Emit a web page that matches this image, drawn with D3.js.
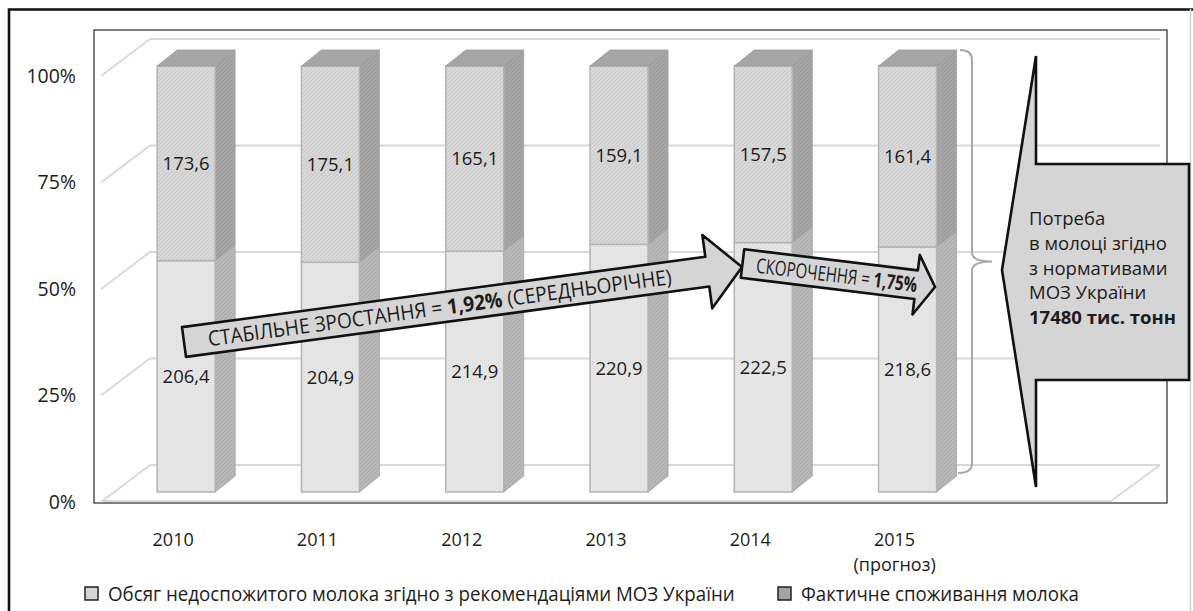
<!DOCTYPE html>
<html lang="uk">
<head>
<meta charset="utf-8">
<title>Споживання молока</title>
<script src="https://cdn.jsdelivr.net/npm/d3@7"></script>
<style>
  body { margin: 0; background: #fff; }
  text { font-family: "Open Sans", "Noto Sans", sans-serif; fill: #1e1b1c; }
</style>
</head>
<body>
<script>

// data
var years = ["2010", "2011", "2012", "2013", "2014", "2015"];
var yearNotes = ["", "", "", "", "", "(прогноз)"];
var shortfall = [206.4, 204.9, 214.9, 220.9, 222.5, 218.6];
var actual = [173.6, 175.1, 165.1, 159.1, 157.5, 161.4];
var percentTicks = [0, 0.25, 0.5, 0.75, 1];
var seriesNames = ["Обсяг недоспожитого молока згідно з рекомендаціями МОЗ України",
                   "Фактичне споживання молока"];
var calloutLines = ["Потреба", "в молоці згідно", "з нормативами", "МОЗ України"];
var calloutTotal = "17480 тис. тонн";

var w = 1193, h = 611;

// 3d look: floor from x 101 to 1111, depth goes up-right
var floorL = 101, floorR = 1111;
var depth = [49, -37];
var barShift = [13, -10];   // bar front sits a bit behind the front plane
var barDepth = [20, -16];
var barW = 58;

var svg = d3.select("body").append("svg").attr("width", w).attr("height", h);

var x = d3.scaleBand().domain(years).range([floorL, floorL + (floorR - floorL) * 6 / 7]);
var y = d3.scaleLinear().domain([0, 1]).range([502, 76]);

var fmt = d3.formatLocale({decimal: ",", thousands: " ", grouping: [3], currency: ["", ""]}).format(".1f");

// squeeze a text sideways so it fits a width (the original font is narrower)
function squeeze(sel, cx, cy, angle, width) {
  var got = sel.node().getComputedTextLength();
  var k = Math.min(1, width / got);
  sel.attr("transform", "translate(" + cx + "," + cy + ") rotate(" + angle + ") scale(" + k + ",1)");
}

// textures for the bar faces
var defs = svg.append("defs");
function texture(id, base, line, kind) {
  var p = defs.append("pattern").attr("id", id).attr("width", 4).attr("height", 4)
    .attr("patternUnits", "userSpaceOnUse");
  p.append("rect").attr("width", 4).attr("height", 4).attr("fill", base);
  if (kind == "dots") {
    p.append("rect").attr("x", 0).attr("y", 0).attr("width", 1).attr("height", 1).attr("fill", line);
    p.append("rect").attr("x", 2).attr("y", 2).attr("width", 1).attr("height", 1).attr("fill", line);
  } else {
    p.append("path").attr("d", "M0,4L4,0M-1,1L1,-1M3,5L5,3").attr("stroke", line).attr("stroke-width", 1);
  }
}
texture("frontLow", "#e6e6e6", "#d6d6d6", "dots");
texture("frontHigh", "#d8d8d8", "#c8c8c8", "lines");
texture("sideLow", "#b8b8b8", "#aaaaaa", "lines");
texture("sideHigh", "#a6a6a6", "#989898", "lines");

// outer frame
svg.append("path").attr("d", "M9,620V9.5H1193").attr("fill", "none")
  .attr("stroke", "#111").attr("stroke-width", 2.6);
svg.append("line").attr("x1", 1190.5).attr("x2", 1190.5).attr("y1", 9).attr("y2", 611)
  .attr("stroke", "#d0d0d0").attr("stroke-width", 1.5);

// plot area box
svg.append("rect").attr("x", 94).attr("y", 30).attr("width", 1167 - 94).attr("height", 503 - 30)
  .attr("fill", "none").attr("stroke", "#3a3a3a").attr("stroke-width", 1.3);

// walls and floor gridlines
var grid = svg.append("g").attr("stroke", "#d9d9d9").attr("stroke-width", 2).attr("fill", "none");
grid.selectAll(".back").data(percentTicks).enter().append("line")
  .attr("x1", floorL + depth[0]).attr("x2", floorR + depth[0])
  .attr("y1", function(d) { return y(d) + depth[1]; })
  .attr("y2", function(d) { return y(d) + depth[1]; });
grid.selectAll(".side").data(percentTicks).enter().append("line")
  .attr("x1", floorL).attr("x2", floorL + depth[0])
  .attr("y1", function(d) { return y(d); })
  .attr("y2", function(d) { return y(d) + depth[1]; });
grid.append("path").attr("d",
  "M" + floorL + "," + (y(0) - 1) + "H" + floorR + "L" + (floorR + depth[0]) + "," + (y(0) + depth[1]));

// stacked 100% bars
var rows = years.map(function(yr, i) { return {year: yr, a: shortfall[i], b: actual[i]}; });
var stack = d3.stack().keys(["a", "b"]).offset(d3.stackOffsetExpand)(rows);
var fronts = ["url(#frontLow)", "url(#frontHigh)"];
var sides = ["url(#sideLow)", "url(#sideHigh)"];

function barLeft(yr) { return x(yr) + x.bandwidth() / 2 + barShift[0] - barW / 2; }
function barY(v) { return y(v) + barShift[1]; }

var bars = svg.append("g");
stack.forEach(function(series, s) {
  var g = bars.append("g");
  g.selectAll("polygon.side").data(series).enter().append("polygon")
    .attr("points", function(d) {
      var xr = barLeft(d.data.year) + barW, t = barY(d[1]), b = barY(d[0]);
      return [[xr, b], [xr, t], [xr + barDepth[0], t + barDepth[1]], [xr + barDepth[0], b + barDepth[1]]].join(" ");
    })
    .attr("fill", sides[s]).attr("stroke", "#a0a0a0").attr("stroke-width", 0.8);
  g.selectAll("rect").data(series).enter().append("rect")
    .attr("x", function(d) { return barLeft(d.data.year); })
    .attr("y", function(d) { return barY(d[1]); })
    .attr("width", barW)
    .attr("height", function(d) { return barY(d[0]) - barY(d[1]); })
    .attr("fill", fronts[s]).attr("stroke", "#b4b4b4").attr("stroke-width", 1.5);
  if (s == stack.length - 1) {
    g.selectAll("polygon.top").data(series).enter().append("polygon")
      .attr("points", function(d) {
        var xl = barLeft(d.data.year), t = barY(d[1]);
        return [[xl, t], [xl + barDepth[0], t + barDepth[1]], [xl + barW + barDepth[0], t + barDepth[1]], [xl + barW, t]].join(" ");
      })
      .attr("fill", "#a6a6a6").attr("stroke", "#9a9a9a").attr("stroke-width", 0.8);
  }
  g.selectAll("text").data(series).enter().append("text")
    .attr("x", function(d) { return barLeft(d.data.year) + barW / 2; })
    .attr("y", function(d) { return (barY(d[0]) + barY(d[1])) / 2; })
    .attr("dy", "0.35em").attr("text-anchor", "middle").style("font-size", "18.5px")
    .text(function(d) { return fmt(d.data[s == 0 ? "a" : "b"]); });
});

// axes
var yAxis = svg.append("g").attr("transform", "translate(76,0)")
  .call(d3.axisLeft(y).tickValues(percentTicks).tickFormat(d3.format(".0%")).tickSize(0).tickPadding(0));
yAxis.select(".domain").remove();
yAxis.selectAll("text").style("font-size", "19.5px");

var xAxis = svg.append("g").attr("transform", "translate(0,533)")
  .call(d3.axisBottom(x).tickSize(0).tickPadding(0));
xAxis.select(".domain").remove();
xAxis.selectAll("text").style("font-size", "18px");
svg.selectAll(".note").data(years).enter().append("text")
  .attr("x", function(d) { return x(d) + x.bandwidth() / 2; })
  .attr("y", 571).attr("text-anchor", "middle").style("font-size", "18px")
  .text(function(d, i) { return yearNotes[i]; });

// brace next to 2015
var bTop = barY(1) + barDepth[1], bBot = barY(0) + barDepth[1] - 3, bMid = (bTop + bBot) / 2, bx = 972;
svg.append("path")
  .attr("d", "M" + (bx - 12) + "," + bTop + "Q" + bx + "," + bTop + " " + bx + "," + (bTop + 10) +
    "V" + (bMid - 9) + "Q" + bx + "," + bMid + " " + (bx + 20) + "," + bMid +
    "Q" + bx + "," + bMid + " " + bx + "," + (bMid + 9) +
    "V" + (bBot - 10) + "Q" + bx + "," + bBot + " " + (bx - 14) + "," + bBot)
  .attr("fill", "none").attr("stroke", "#a8a8a8").attr("stroke-width", 2);

// block arrows
function blockArrow(tail, tip, shaft, head, headLen) {
  var dx = tip[0] - tail[0], dy = tip[1] - tail[1], len = Math.sqrt(dx * dx + dy * dy);
  var u = [dx / len, dy / len], n = [u[1], -u[0]];
  function at(t, o) { return [tail[0] + u[0] * t + n[0] * o, tail[1] + u[1] * t + n[1] * o]; }
  var b = len - headLen;
  return [at(0, shaft), at(b, shaft), at(b, head), tip, at(b, -head), at(b, -shaft), at(0, -shaft)];
}
function arrowText(tail, tip, t) {
  var dx = tip[0] - tail[0], dy = tip[1] - tail[1], len = Math.sqrt(dx * dx + dy * dy);
  return {x: tail[0] + dx / len * t, y: tail[1] + dy / len * t, a: Math.atan2(dy, dx) * 180 / Math.PI};
}

var arrows = [
  {tail: [184, 342], tip: [742, 267], shaft: 15, head: 37, headLen: 35, along: 258, size: 21, width: 468,
   parts: [["СТАБІЛЬНЕ ЗРОСТАННЯ = ", 400], ["1,92%", 700], [" (СЕРЕДНЬОРІЧНЕ)", 400]]},
  {tail: [742.5, 263.5], tip: [935, 287], shaft: 14.4, head: 30, headLen: 19, along: 95, size: 20.5, width: 162,
   parts: [["СКОРОЧЕННЯ = ", 400], ["1,75%", 700]]}
];
arrows.forEach(function(a) {
  svg.append("polygon").attr("points", blockArrow(a.tail, a.tip, a.shaft, a.head, a.headLen).join(" "))
    .attr("fill", "#d5d5d5").attr("stroke", "#111").attr("stroke-width", 2.6).attr("stroke-linejoin", "round");
  var p = arrowText(a.tail, a.tip, a.along);
  var t = svg.append("text").attr("text-anchor", "middle").attr("dy", "0.36em")
    .style("font-size", a.size + "px");
  a.parts.forEach(function(q) { t.append("tspan").style("font-weight", q[1]).text(q[0]); });
  squeeze(t, p.x, p.y, p.a, a.width);
});

// callout on the right
var co = {left: 1036, right: 1189, top: 164, bottom: 380, tipX: 1002, tipY: 270, up: 56, down: 487};
svg.append("polygon")
  .attr("points", [[co.left, co.up], [co.left, co.top], [co.right, co.top], [co.right, co.bottom],
    [co.left, co.bottom], [co.left, co.down], [co.tipX, co.tipY]].join(" "))
  .attr("fill", "#d5d5d5").attr("stroke", "#111").attr("stroke-width", 2.6);
var ct = svg.append("g").style("font-size", "18.5px");
ct.selectAll("text").data(calloutLines.concat([calloutTotal])).enter().append("text")
  .attr("x", 1029).attr("y", function(d, i) { return 225 + i * 24.8; })
  .style("font-weight", function(d, i) { return i == calloutLines.length ? 700 : 400; })
  .text(function(d) { return d; });

// legend
var legendX = [85, 778], legendFill = ["#d5d5d5", "#a3a3a3"], legendWidth = [627, 278];
var lg = svg.selectAll(".legend").data(seriesNames).enter().append("g")
  .attr("transform", function(d, i) { return "translate(" + legendX[i] + ",587)"; });
lg.append("rect").attr("width", 13).attr("height", 13)
  .attr("fill", function(d, i) { return legendFill[i]; })
  .attr("stroke", "#222").attr("stroke-width", 1.5);
lg.append("text").style("font-size", "20.5px")
  .text(function(d) { return d; })
  .each(function(d, i) { squeeze(d3.select(this), 23, 14, 0, legendWidth[i]); });

</script>
</body>
</html>
